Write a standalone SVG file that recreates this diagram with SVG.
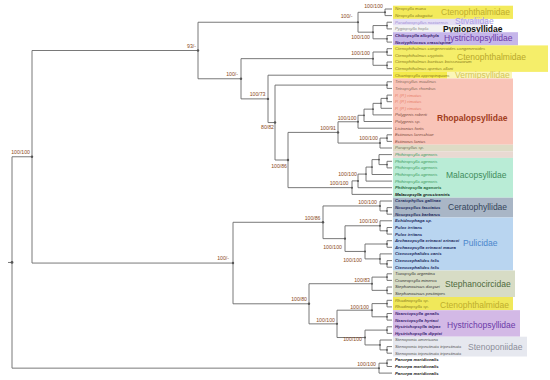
<svg xmlns="http://www.w3.org/2000/svg" width="550" height="380" viewBox="0 0 550 380">
<style>
.br{fill:none;stroke:#6a6a6a;stroke-width:0.9}
.dot{fill:#555}
.sup{font-family:"Liberation Sans",Arial,sans-serif;font-size:5.2px;fill:#8b4a22;text-anchor:end}
.tip{font-family:"Liberation Sans",Arial,sans-serif;font-size:4.3px;font-style:italic}
.fam{font-family:"Liberation Sans",Arial,sans-serif;font-size:8.5px}
.ol{fill:#8a7d1a}.pu{fill:#3a1f70;font-weight:bold}.rb{fill:#7a4a3c}.gr{fill:#3a9a5a}.nv{fill:#1e2c5e;font-weight:bold}.dk{fill:#333}
</style>
<rect width="550" height="380" fill="#ffffff"/>
<g id="families">
<g id="fam-cteno1"><rect x="393" y="5.7" width="120" height="13.2" fill="#f3ea5c"/><text class="fam" x="441" y="14.6" fill="#bfae2c" font-size="7.3">Ctenophthalmidae</text></g>
<g id="fam-stival"><rect x="393" y="18.9" width="95" height="6.6" fill="#e4def4"/><text class="fam" x="455" y="23.9" fill="#a99be3" font-size="4.6">Stivaliidae</text></g>
<g id="fam-pygio"><rect x="393" y="25.5" width="95" height="6.7" fill="#f2f2f2"/><text class="fam" x="443" y="31.8" fill="#111" font-size="5.2" font-weight="bold">Pygiopsyllidae</text></g>
<g id="fam-hystr1"><rect x="393" y="32.2" width="125" height="13.2" fill="#c6b6ea"/><text class="fam" x="444" y="40.6" fill="#6b3aa8" font-size="8.2">Hystrichopsyllidae</text></g>
<g id="fam-cteno2"><rect x="393" y="45.4" width="155" height="26.5" fill="#f5ee6a"/><text class="fam" x="457" y="60" fill="#b8a82a" font-size="10.3">Ctenophthalmidae</text></g>
<g id="fam-vermi"><rect x="393" y="71.9" width="119" height="6.6" fill="#fbf6b8"/><rect x="393" y="71.9" width="54" height="6.6" fill="#f4ea4c"/><text class="fam" x="455" y="78" fill="#d2c55a" font-size="8.3">Vermipsyllidae</text></g>
<g id="fam-rhopalo"><rect x="393" y="78.5" width="120" height="66.2" fill="#f9c4b8"/><text class="fam" x="437" y="121" fill="#a13c1c" font-size="7.6" font-weight="bold">Rhopalopsyllidae</text></g>
<rect x="393" y="144.7" width="120" height="6.6" fill="#dedbc5"/>
<rect x="393" y="151.3" width="120" height="6.6" fill="#e9d9d2"/>
<g id="fam-malaco"><rect x="393" y="157.9" width="120" height="39.8" fill="#b9ecd6"/><text class="fam" x="446" y="178" fill="#3e8c5c" font-size="8.3">Malacopsyllidae</text></g>
<g id="fam-cerato"><rect x="393" y="197.7" width="120" height="19.8" fill="#a9b6c6"/><text class="fam" x="448" y="210" fill="#34455a" font-size="8.6">Ceratophyllidae</text></g>
<g id="fam-pulic"><rect x="393" y="217.5" width="120" height="53" fill="#b9d5f0"/><text class="fam" x="463" y="246" fill="#4a86cc" font-size="8.1">Pulicidae</text></g>
<g id="fam-stephano"><rect x="393" y="270.5" width="122" height="26.5" fill="#d7dcc5"/><text class="fam" x="445" y="287" fill="#4e6b3d" font-size="8.2">Stephanocircidae</text></g>
<g id="fam-cteno3"><rect x="393" y="297" width="120" height="13.2" fill="#f0e85a"/><text class="fam" x="440" y="308" fill="#bfae2c" font-size="8.4">Ctenophthalmidae</text></g>
<g id="fam-hystr2"><rect x="393" y="310.2" width="127" height="26.5" fill="#d3b9e6"/><text class="fam" x="447" y="328" fill="#6b3aa8" font-size="8.4">Hystrichopsyllidae</text></g>
<g id="fam-steno"><rect x="393" y="336.7" width="134" height="19.8" fill="#e6e8ef"/><text class="fam" x="468" y="350" fill="#8c8e9a" font-size="8.3">Stenoponiidae</text></g>
</g>
<g id="connectors" class="br">
<path d="M392 9H385V15.6H392"/>
<path d="M392 22.2H387V28.9H392"/>
<path d="M392 35.5H387V42.1H392"/>
<path d="M387 25.55H373V38.8H387"/>
<path d="M385 12.3H358V32.18H373"/>
<path d="M392 48.7H387V55.3H392"/>
<path d="M392 62H387V68.6H392"/>
<path d="M387 52H373V65.3H387"/>
<path d="M392 81.8H387V88.4H392"/>
<path d="M392 95.1H387V101.7H392"/>
<path d="M387 98.4H381V108.3H392"/>
<path d="M381 103.35H373V114.9H392"/>
<path d="M373 109.13H364V121.5H392"/>
<path d="M364 115.3H358V128.2H392"/>
<path d="M392 134.8H387V141.4H392"/>
<path d="M387 138.1H380V148H392"/>
<path d="M358 121.75H338V143.05H380"/>
<path d="M392 161.3H387V167.9H392"/>
<path d="M392 154.6H379V164.6H387"/>
<path d="M379 159.6H372V174.5H392"/>
<path d="M372 167.05H366V181.1H392"/>
<path d="M366 174.08H358V187.7H392"/>
<path d="M358 180.89H352V194.4H392"/>
<path d="M338 132.4H288V187.65H352"/>
<path d="M387 85.1H275V160H288"/>
<path d="M392 75.2H268V122.55H275"/>
<path d="M373 58.65H241V98.88H268"/>
<path d="M358 22.24H198V78.77H241"/>
<path d="M392 207.6H387V214.2H392"/>
<path d="M392 201H380V210.9H387"/>
<path d="M392 227.5H387V234.1H392"/>
<path d="M392 220.8H380V230.8H387"/>
<path d="M392 240.7H387V247.3H392"/>
<path d="M392 260.6H387V267.2H392"/>
<path d="M392 253.9H380V263.9H387"/>
<path d="M387 244H365V258.9H380"/>
<path d="M380 225.8H345V251.45H365"/>
<path d="M380 205.95H323V238.63H345"/>
<path d="M392 273.8H387V280.4H392"/>
<path d="M392 287H387V293.7H392"/>
<path d="M387 277.1H372V290.35H387"/>
<path d="M392 300.3H387V306.9H392"/>
<path d="M392 313.5H387V320.1H392"/>
<path d="M387 303.6H372V316.8H387"/>
<path d="M392 326.8H387V333.4H392"/>
<path d="M392 346.6H387V353.2H392"/>
<path d="M392 340H380V349.9H387"/>
<path d="M387 330.1H365V344.95H380"/>
<path d="M372 310.2H337V337.53H365"/>
<path d="M372 283.73H309V323.87H337"/>
<path d="M323 222.29H233V303.8H309"/>
<path d="M198 50.5H32V263.05H233"/>
<path d="M392 359.9H387V366.5H392"/>
<path d="M387 363.2H379V373.1H392"/>
<path d="M32 156.78H12V368.15H379"/>
<path d="M8 262.47H12"/>
</g>
<g id="nodes">
<g id="n-root"><circle class="dot" cx="12" cy="262.47" r="1.4"/></g>
<g id="n-32"><circle class="dot" cx="32" cy="156.78" r="1.2"/><text class="sup" x="30" y="154">100/100</text></g>
<g id="n-93"><circle class="dot" cx="198" cy="50.5" r="1.2"/><text class="sup" x="196" y="48">93/-</text></g>
<g id="n-up"><circle class="dot" cx="358" cy="22.24" r="1.1"/><text class="sup" x="352.5" y="18">100/-</text></g>
<g id="n-neo"><circle class="dot" cx="385" cy="12.3" r="1"/><text class="sup" x="383" y="7.8">100/100</text></g>
<g id="n-3to6"><circle class="dot" cx="373" cy="32.18" r="1"/><text class="sup" x="370" y="39">100/100</text></g>
<circle class="dot" cx="387" cy="25.55" r="0.9"/><circle class="dot" cx="387" cy="38.8" r="0.9"/>
<g id="n-mid"><circle class="dot" cx="241" cy="78.77" r="1.2"/><text class="sup" x="238" y="75.5">100/-</text></g>
<g id="n-cten"><circle class="dot" cx="373" cy="58.65" r="1"/><text class="sup" x="370" y="55">100/100</text></g>
<circle class="dot" cx="387" cy="52" r="0.9"/><circle class="dot" cx="387" cy="65.3" r="0.9"/>
<g id="n-73"><circle class="dot" cx="268" cy="98.88" r="1.2"/><text class="sup" x="265.5" y="96">100/73</text></g>
<g id="n-8082"><circle class="dot" cx="275" cy="122.55" r="1.2"/><text class="sup" x="274" y="129">80/82</text></g>
<circle class="dot" cx="387" cy="85.1" r="0.9"/>
<g id="n-86a"><circle class="dot" cx="288" cy="160" r="1.2"/><text class="sup" x="287" y="167.8">100/86</text></g>
<g id="n-91"><circle class="dot" cx="338" cy="132.4" r="1.2"/><text class="sup" x="336" y="130">100/91</text></g>
<circle class="dot" cx="387" cy="98.4" r="0.9"/><circle class="dot" cx="381" cy="103.35" r="0.9"/><circle class="dot" cx="373" cy="109.13" r="0.9"/><circle class="dot" cx="364" cy="115.3" r="0.9"/>
<g id="n-r19"><circle class="dot" cx="358" cy="121.75" r="1"/><text class="sup" x="356.5" y="119.5">100/100</text></g>
<circle class="dot" cx="387" cy="138.1" r="0.9"/>
<g id="n-e22"><circle class="dot" cx="380" cy="143.05" r="1"/><text class="sup" x="378" y="140">100/100</text></g>
<circle class="dot" cx="387" cy="164.6" r="0.9"/><circle class="dot" cx="379" cy="159.6" r="0.9"/><circle class="dot" cx="372" cy="167.05" r="0.9"/><circle class="dot" cx="366" cy="174.08" r="0.9"/>
<g id="n-m28"><circle class="dot" cx="358" cy="180.89" r="1"/><text class="sup" x="357" y="176">100/100</text></g>
<g id="n-m29"><circle class="dot" cx="352" cy="187.65" r="1"/><text class="sup" x="348.5" y="184.5">100/100</text></g>
<g id="n-low"><circle class="dot" cx="233" cy="263.05" r="1.2"/><text class="sup" x="229" y="260.3">100/-</text></g>
<g id="n-86b"><circle class="dot" cx="323" cy="222.29" r="1.2"/><text class="sup" x="320.5" y="219.5">100/86</text></g>
<g id="n-ce"><circle class="dot" cx="380" cy="205.95" r="1"/><text class="sup" x="377" y="203.5">100/100</text></g>
<circle class="dot" cx="387" cy="210.9" r="0.9"/>
<g id="n-pu"><circle class="dot" cx="380" cy="225.8" r="1"/><text class="sup" x="378" y="222.5">100/100</text></g>
<circle class="dot" cx="387" cy="230.8" r="0.9"/>
<g id="n-c1"><circle class="dot" cx="345" cy="238.63" r="1.1"/><text class="sup" x="342" y="248.5">100/100</text></g>
<g id="n-ac"><circle class="dot" cx="365" cy="251.45" r="1"/><text class="sup" x="362" y="261.5">100/100</text></g>
<circle class="dot" cx="387" cy="244" r="0.9"/><circle class="dot" cx="380" cy="258.9" r="0.9"/><circle class="dot" cx="387" cy="263.9" r="0.9"/>
<g id="n-80"><circle class="dot" cx="309" cy="303.8" r="1.2"/><text class="sup" x="307" y="300.5">100/80</text></g>
<g id="n-st"><circle class="dot" cx="372" cy="283.73" r="1"/><text class="sup" x="370" y="281.5">100/83</text></g>
<circle class="dot" cx="387" cy="277.1" r="0.9"/><circle class="dot" cx="387" cy="290.35" r="0.9"/>
<g id="n-hs2"><circle class="dot" cx="337" cy="323.87" r="1.1"/><text class="sup" x="335" y="321.5">100/100</text></g>
<g id="n-rn"><circle class="dot" cx="372" cy="310.2" r="1"/><text class="sup" x="369" y="308.5">100/100</text></g>
<circle class="dot" cx="387" cy="303.6" r="0.9"/><circle class="dot" cx="387" cy="316.8" r="0.9"/>
<g id="n-hs"><circle class="dot" cx="365" cy="337.53" r="1"/><text class="sup" x="362" y="341">100/100</text></g>
<circle class="dot" cx="387" cy="330.1" r="0.9"/><circle class="dot" cx="380" cy="344.95" r="0.9"/><circle class="dot" cx="387" cy="349.9" r="0.9"/>
<g id="n-pa"><circle class="dot" cx="379" cy="368.15" r="1"/><text class="sup" x="376" y="365.5">100/100</text></g>
<circle class="dot" cx="387" cy="363.2" r="0.9"/>
</g>
<g id="tips" class="tip">
<g id="tip-1"><text class="ol" x="395" y="10.4">Neopsylla mana</text></g>
<g id="tip-2"><text class="ol" x="395" y="17">Neopsylla abagaitui</text></g>
<g id="tip-3"><text x="395" y="23.6" fill="#9b8bd6">Paradoxopsyllus naxiaensis</text></g>
<g id="tip-4"><text x="395" y="30.3" fill="#888">Pygiopsylla hopla</text></g>
<g id="tip-5"><text class="pu" x="395" y="36.9">Chiliopsylla allophyla</text></g>
<g id="tip-6"><text class="pu" x="395" y="43.5">Neotyphloceus crassispina</text></g>
<g id="tip-7"><text class="ol" x="395" y="50.1">Ctenophthalmus congeneroides congeneroides</text></g>
<g id="tip-8"><text class="ol" x="395" y="56.7">Ctenophthalmus cryptotis</text></g>
<g id="tip-9"><text class="ol" x="395" y="63.4">Ctenophthalmus baeticus boisseauorum</text></g>
<g id="tip-10"><text class="ol" x="395" y="70">Ctenophthalmus apertus allani</text></g>
<g id="tip-11"><text class="ol" x="395" y="76.6">Chaetopsylla appropinquans</text></g>
<g id="tip-12"><text x="395" y="83.2" fill="#8a6a5a">Tetrapsyllus maulinus</text></g>
<g id="tip-13"><text x="395" y="89.8" fill="#8a6a5a">Tetrapsyllus rhombus</text></g>
<g id="tip-14"><text x="395" y="96.5" fill="#e8806a">P. (P.) rimatus</text></g>
<g id="tip-15"><text x="395" y="103.1" fill="#e8806a">P. (P.) rimatus</text></g>
<g id="tip-16"><text x="395" y="109.7" fill="#e8806a">P. (P.) rimatus</text></g>
<g id="tip-17"><text class="rb" x="395" y="116.3">Polygenis roberti</text></g>
<g id="tip-18"><text class="rb" x="395" y="122.9">Polygenis sp.</text></g>
<g id="tip-19"><text class="rb" x="395" y="129.6">Listronius fortis</text></g>
<g id="tip-20"><text class="rb" x="395" y="136.2">Ectinorus lareschiae</text></g>
<g id="tip-21"><text class="rb" x="395" y="142.8">Ectinorus lanius</text></g>
<g id="tip-22"><text x="395" y="149.4" fill="#6f6f52">Parapsyllus sp.</text></g>
<g id="tip-23"><text class="gr" x="395" y="156">Phthiropsylla agenoris</text></g>
<g id="tip-24"><text class="gr" x="395" y="162.7">Phthiropsylla agenoris</text></g>
<g id="tip-25"><text class="gr" x="395" y="169.3">Phthiropsylla agenoris</text></g>
<g id="tip-26"><text class="gr" x="395" y="175.9">Phthiropsylla agenoris</text></g>
<g id="tip-27"><text class="gr" x="395" y="182.5">Phthiropsylla agenoris</text></g>
<g id="tip-28"><text x="395" y="189.1" fill="#1f6a3a" font-weight="bold">Phthiropsylla agenoris</text></g>
<g id="tip-29"><text x="395" y="195.8" fill="#111" font-weight="bold">Malacopsylla grossiventris</text></g>
<g id="tip-30"><text class="nv" x="395" y="202.4">Ceratophyllus gallinae</text></g>
<g id="tip-31"><text class="nv" x="395" y="209">Nosopsyllus fasciatus</text></g>
<g id="tip-32"><text class="nv" x="395" y="215.6">Nosopsyllus barbarus</text></g>
<g id="tip-33"><text class="nv" x="395" y="222.2">Echidnophaga sp.</text></g>
<g id="tip-34"><text class="nv" x="395" y="228.9">Pulex irritans</text></g>
<g id="tip-35"><text class="nv" x="395" y="235.5">Pulex irritans</text></g>
<g id="tip-36"><text class="nv" x="395" y="242.1">Archaeopsylla erinacei erinacei</text></g>
<g id="tip-37"><text class="nv" x="395" y="248.7">Archaeopsylla erinacei maura</text></g>
<g id="tip-38"><text class="nv" x="395" y="255.3">Ctenocephalides canis</text></g>
<g id="tip-39"><text class="nv" x="395" y="262">Ctenocephalides felis</text></g>
<g id="tip-40"><text class="nv" x="395" y="268.6">Ctenocephalides felis</text></g>
<g id="tip-41"><text class="dk" x="395" y="275.2">Tiarapsylla argentina</text></g>
<g id="tip-42"><text class="dk" x="395" y="281.8">Craneopsylla minerva</text></g>
<g id="tip-43"><text class="dk" x="395" y="288.4">Stephanocircus dasyuri</text></g>
<g id="tip-44"><text class="dk" x="395" y="295.1">Stephanocircus pectinipes</text></g>
<g id="tip-45"><text class="ol" x="395" y="301.7">Rhadinopsylla sp.</text></g>
<g id="tip-46"><text class="ol" x="395" y="308.3">Rhadinopsylla sp.</text></g>
<g id="tip-47"><text class="pu" x="395" y="314.9">Nearctopsylla genalis</text></g>
<g id="tip-48"><text class="pu" x="395" y="321.5">Nearctopsylla hyrtaci</text></g>
<g id="tip-49"><text class="pu" x="395" y="328.2">Hystrichopsylla talpae</text></g>
<g id="tip-50"><text class="pu" x="395" y="334.8">Hystrichopsylla dippiei</text></g>
<g id="tip-51"><text x="395" y="341.4" fill="#555">Stenoponia americana</text></g>
<g id="tip-52"><text x="395" y="348" fill="#555">Stenoponia tripectinata tripectinata</text></g>
<g id="tip-53"><text x="395" y="354.6" fill="#555">Stenoponia tripectinata tripectinata</text></g>
<g id="tip-54"><text x="395" y="361.3" fill="#222" font-weight="bold">Panorpa meridionalis</text></g>
<g id="tip-55"><text x="395" y="367.9" fill="#222" font-weight="bold">Panorpa meridionalis</text></g>
<g id="tip-56"><text x="395" y="374.5" fill="#222" font-weight="bold">Panorpa meridionalis</text></g>
</g>
</svg>
